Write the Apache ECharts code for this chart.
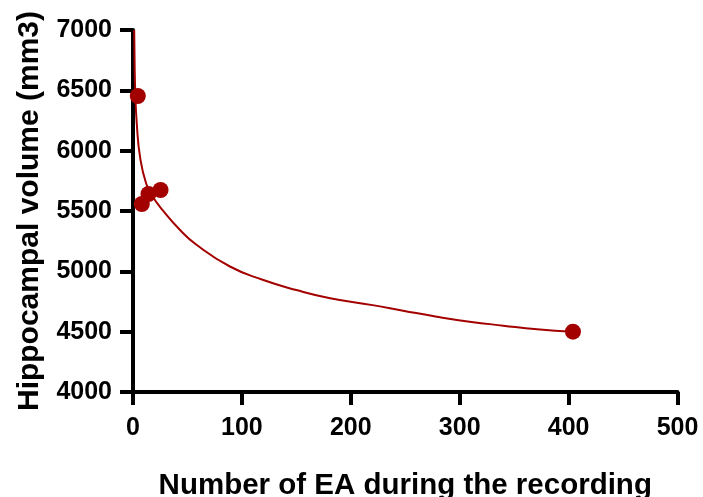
<!DOCTYPE html>
<html>
<head>
<meta charset="utf-8">
<script src="https://cdn.jsdelivr.net/npm/echarts@6/dist/echarts.min.js"></script>
<style>html,body{margin:0;padding:0;background:#fff;}#c{width:703px;height:497px;}</style>
</head>
<body>
<div id="c"></div>
<script>
// Observed data points
var pointX = [4.4, 8.1, 14.2, 25.3, 404];
var pointY = [6453, 5558, 5641, 5674, 4500];
// Fitted curve
var curveX = [1.1, 1.4, 2.0, 3.5, 6.6, 12, 18, 27, 43, 58, 89, 119, 150, 181, 220, 248, 279, 309, 340, 371, 404];
var curveY = [7000, 6780, 6500, 6220, 5940, 5730, 5620, 5510, 5345, 5222, 5040, 4930, 4845, 4777, 4720, 4674, 4624, 4583, 4550, 4520, 4500];
var xTitle = 'Number of EA during the recording';
var yTitle = 'Hippocampal volume (mm3)';

var RED = '#a30000';
var FONT = 'Liberation Sans';

function pairs(xs, ys) { return xs.map(function (x, i) { return [x, ys[i]]; }); }
function plain(v) { return String(v); }

var chart = echarts.init(document.getElementById('c'));
chart.setOption({
  animation: false,
  grid: { left: 133, right: 25.5, top: 30, bottom: 105, containLabel: false, outerBoundsMode: 'none' },
  xAxis: {
    type: 'value', min: 0, max: 500, interval: 100,
    name: xTitle, nameLocation: 'middle', nameGap: 79, nameMoveOverlap: false,
    nameTextStyle: { fontFamily: FONT, fontWeight: 'bold', fontSize: 29.5, color: '#000' },
    axisLine: { show: true, onZero: false, lineStyle: { color: '#000', width: 4 } },
    axisTick: { show: true, length: 13, lineStyle: { color: '#000', width: 4 } },
    axisLabel: { fontFamily: FONT, fontWeight: 'bold', fontSize: 25, color: '#000', margin: 24, formatter: plain },
    splitLine: { show: false }
  },
  yAxis: {
    type: 'value', min: 4000, max: 7000, interval: 500,
    name: yTitle, nameLocation: 'middle', nameGap: 88, nameRotate: 90, nameMoveOverlap: false,
    nameTextStyle: { fontFamily: FONT, fontWeight: 'bold', fontSize: 30, color: '#000' },
    axisLine: { show: true, onZero: false, lineStyle: { color: '#000', width: 4 } },
    axisTick: { show: true, length: 13, lineStyle: { color: '#000', width: 4 } },
    axisLabel: { fontFamily: FONT, fontWeight: 'bold', fontSize: 25, color: '#000', margin: 21, formatter: plain },
    splitLine: { show: false }
  },
  series: [
    {
      type: 'line', data: pairs(curveX, curveY), smooth: 0.5,
      showSymbol: false, symbol: 'none',
      lineStyle: { color: RED, width: 2 }, z: 2
    },
    {
      type: 'scatter', data: pairs(pointX, pointY), symbol: 'circle', symbolSize: 16,
      itemStyle: { color: RED, opacity: 1 }, z: 3
    }
  ]
});
</script>
</body>
</html>
